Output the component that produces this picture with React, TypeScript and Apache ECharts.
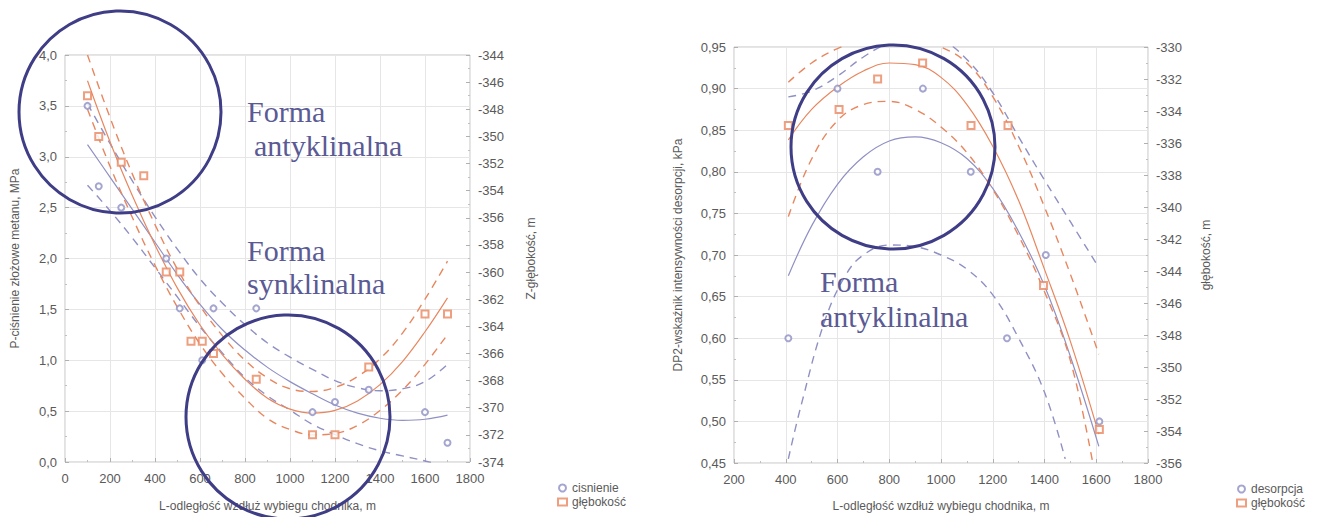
import React, { useEffect, useRef } from "react";
import * as echarts from "echarts";

// ---------- LEFT CHART DATA ----------
const cisX = [100, 150, 250, 450, 510, 610, 660, 850, 1100, 1200, 1350, 1600, 1700];
const cisY = [3.5, 2.71, 2.5, 2.0, 1.51, 1.0, 1.51, 1.51, 0.49, 0.59, 0.71, 0.49, 0.19];
const glebX = [100, 150, 250, 350, 450, 510, 560, 610, 660, 850, 1100, 1200, 1350, 1600, 1700];
const glebZ = [-347.0, -350.0, -351.9, -352.9, -360.0, -360.0, -365.1, -365.1, -366.0, -367.9, -372.0, -372.0, -367.0, -363.1, -363.1];

const fitXL = [100, 200, 300, 400, 500, 600, 700, 800, 900, 1000, 1100, 1200, 1300, 1400, 1500, 1600, 1700];
const cisFit = [3.12, 2.8, 2.48, 2.16, 1.84, 1.55, 1.3, 1.1, 0.93, 0.79, 0.67, 0.56, 0.48, 0.43, 0.41, 0.42, 0.46];
const cisUpper = [3.52, 3.13, 2.76, 2.41, 2.09, 1.8, 1.56, 1.35, 1.17, 1.03, 0.91, 0.8, 0.73, 0.7, 0.72, 0.79, 0.96];
const cisLower = [2.72, 2.47, 2.2, 1.91, 1.62, 1.33, 1.07, 0.83, 0.65, 0.51, 0.37, 0.27, 0.18, 0.11, 0.06, 0.01, -0.05];
const glebFit = [-345.9, -350.4, -354.4, -358.0, -361.2, -363.9, -366.1, -367.9, -369.3, -370.1, -370.4, -370.2, -369.5, -368.3, -366.6, -364.4, -361.9];
const glebUpper = [-344.0, -348.6, -352.8, -356.5, -359.8, -362.5, -364.7, -366.5, -367.8, -368.6, -368.8, -368.5, -367.7, -366.4, -364.5, -362.0, -359.2];
const glebLower = [-348.0, -352.2, -356.0, -359.5, -362.6, -365.3, -367.5, -369.3, -370.8, -371.6, -372.0, -371.9, -371.3, -370.2, -368.7, -366.8, -364.6];

// ---------- RIGHT CHART DATA ----------
const desX = [410, 600, 755, 930, 1115, 1255, 1405, 1612];
const desY = [0.6, 0.9, 0.8, 0.9, 0.8, 0.6, 0.7, 0.5];
const gleb2X = [410, 606, 755, 929, 1116, 1259, 1396, 1612];
const gleb2Z = [-334.9, -333.9, -332.0, -331.0, -334.9, -334.9, -344.9, -353.9];

const fitXR = [410, 500, 600, 700, 800, 900, 1000, 1100, 1200, 1300, 1400, 1500, 1610];
const desFit = [0.675, 0.735, 0.785, 0.818, 0.837, 0.842, 0.835, 0.816, 0.78, 0.728, 0.663, 0.578, 0.47];
const desUpper = [0.89, 0.897, 0.915, 0.938, 0.955, 0.962, 0.958, 0.935, 0.895, 0.842, 0.79, 0.74, 0.685];
const desLowerX = [410, 460, 550, 630, 700, 800, 900, 1000, 1100, 1200, 1300, 1400, 1480];
const desLower = [0.455, 0.52, 0.62, 0.675, 0.7, 0.712, 0.71, 0.7, 0.683, 0.652, 0.6, 0.535, 0.455];
const gleb2Fit = [-335.8, -333.9, -332.5, -331.5, -331.0, -331.1, -331.9, -333.6, -336.2, -339.6, -343.9, -348.4, -354.2];
const gleb2Upper = [-332.2, -331.0, -330.1, -329.6, -329.4, -329.5, -330.0, -331.0, -333.1, -336.2, -340.0, -344.2, -349.2];
const gleb2LowerX = [410, 500, 600, 700, 800, 900, 1000, 1100, 1200, 1300, 1400, 1500, 1590];
const gleb2Lower = [-340.6, -337.0, -334.6, -333.6, -333.4, -333.9, -335.0, -336.6, -338.9, -341.8, -345.3, -349.6, -356.3];

const BLUE = "#8f90c4";
const ORANGE = "#e8875f";
const NAVY = "#3e3d86";
const TXT = "#5a5a94";
const LAB = "#5a5a5a";
const SANS = "'Liberation Sans', Arial, sans-serif";
const SERIF = "'Liberation Serif', 'Times New Roman', serif";

const zip = (xs: number[], ys: number[]) => xs.map((x, i) => [x, ys[i]]);

const comma = (d: number) => (v: number) => v.toFixed(d).replace(".", ",");
const plain = (v: number) => String(Math.round(v));

function lineS(name: string, xi: number, yi: number, xs: number[], ys: number[], color: string, dashed: boolean) {
  return {
    name,
    type: "line",
    xAxisIndex: xi,
    yAxisIndex: yi,
    data: zip(xs, ys),
    smooth: 0.4,
    showSymbol: false,
    symbol: "none",
    silent: true,
    clip: true,
    lineStyle: { color, width: dashed ? 1.4 : 1.2, type: dashed ? [8, 6] : "solid" },
    z: 2,
  };
}

function scatterS(name: string, xi: number, yi: number, xs: number[], ys: number[], color: string, symbol: string) {
  return {
    name,
    type: "scatter",
    xAxisIndex: xi,
    yAxisIndex: yi,
    data: zip(xs, ys),
    symbol,
    symbolSize: symbol === "emptyRect" ? 7 : 6,
    itemStyle: { color, borderColor: color, borderWidth: 1 },
    z: 3,
  };
}

const axisCommon = {
  axisLine: { show: false },
  axisTick: { show: true, inside: true, length: 4, lineStyle: { color: "#b0b0b0" } },
  minorTick: { show: true, splitNumber: 2, length: 2, lineStyle: { color: "#c0c0c0" } },
  axisLabel: { color: LAB, fontFamily: SANS, fontSize: 13 },
  nameTextStyle: { color: LAB, fontFamily: SANS, fontSize: 12 },
};

export default function App() {
  const ref = useRef<HTMLDivElement>(null);
  useEffect(() => {
    if (!ref.current) return;
    const chart = echarts.init(ref.current, null, { renderer: "svg" });
    const option: any = {
      animation: false,
      backgroundColor: "#ffffff",
      grid: [
        { left: 65, top: 55, width: 405, height: 415, show: true, borderColor: "#c4c4c4", borderWidth: 1, backgroundColor: "#fff" },
        { left: 734, top: 47, width: 414, height: 424, show: true, borderColor: "#c4c4c4", borderWidth: 1, backgroundColor: "#fff" },
      ],
      xAxis: [
        {
          ...axisCommon,
          type: "value",
          gridIndex: 0,
          min: 0,
          max: 1800,
          interval: 200,
          splitLine: { show: true, lineStyle: { color: "#e6e6e6" } },
          axisLabel: { ...axisCommon.axisLabel, margin: 10, formatter: plain },
          name: "L-odległość wzdłuż wybiegu chodnika, m",
          nameLocation: "middle",
          nameGap: 38,
        },
        {
          ...axisCommon,
          type: "value",
          gridIndex: 1,
          min: 200,
          max: 1800,
          interval: 200,
          splitLine: { show: true, lineStyle: { color: "#e6e6e6" } },
          axisLabel: { ...axisCommon.axisLabel, margin: 10, formatter: plain },
          name: "L-odległość wzdłuż wybiegu chodnika, m",
          nameLocation: "middle",
          nameGap: 37,
        },
      ],
      yAxis: [
        {
          ...axisCommon,
          type: "value",
          gridIndex: 0,
          position: "left",
          min: 0,
          max: 4,
          interval: 0.5,
          splitLine: { show: true, lineStyle: { color: "#e6e6e6" } },
          axisLabel: { ...axisCommon.axisLabel, formatter: comma(1), margin: 8 },
          name: "P-ciśnienie złożowe metanu, MPa",
          nameLocation: "middle",
          nameGap: 44,
        },
        {
          ...axisCommon,
          type: "value",
          gridIndex: 0,
          position: "right",
          min: -374,
          max: -344,
          interval: 2,
          splitLine: { show: false },
          axisLabel: { ...axisCommon.axisLabel, margin: 8, formatter: plain },
          name: "Z-głębokość, m",
          nameLocation: "middle",
          nameGap: 55,
        },
        {
          ...axisCommon,
          type: "value",
          gridIndex: 1,
          position: "left",
          min: 0.45,
          max: 0.95,
          interval: 0.05,
          splitLine: { show: true, lineStyle: { color: "#e6e6e6" } },
          axisLabel: { ...axisCommon.axisLabel, formatter: comma(2), margin: 8 },
          name: "DP2-wskaźnik intensywności desorpcji, kPa",
          nameLocation: "middle",
          nameGap: 50,
        },
        {
          ...axisCommon,
          type: "value",
          gridIndex: 1,
          position: "right",
          min: -356,
          max: -330,
          interval: 2,
          splitLine: { show: false },
          axisLabel: { ...axisCommon.axisLabel, margin: 8, formatter: plain },
          name: "głębokość, m",
          nameLocation: "middle",
          nameGap: 52,
        },
      ],
      legend: [
        {
          left: 552,
          top: 477,
          orient: "vertical",
          itemGap: 2,
          itemWidth: 9,
          itemHeight: 7,
          data: ["cisnienie", "głębokość"],
          textStyle: { color: LAB, fontFamily: SANS, fontSize: 12 },
        },
        {
          left: 1231,
          top: 478,
          orient: "vertical",
          itemGap: 2,
          itemWidth: 9,
          itemHeight: 7,
          data: ["desorpcja", "głębokość"],
          textStyle: { color: LAB, fontFamily: SANS, fontSize: 12 },
        },
      ],
      series: [
        lineS("fit cis", 0, 0, fitXL, cisFit, BLUE, false),
        lineS("up cis", 0, 0, fitXL, cisUpper, BLUE, true),
        lineS("low cis", 0, 0, fitXL, cisLower, BLUE, true),
        lineS("fit gl", 0, 1, fitXL, glebFit, ORANGE, false),
        lineS("up gl", 0, 1, fitXL, glebUpper, ORANGE, true),
        lineS("low gl", 0, 1, fitXL, glebLower, ORANGE, true),
        scatterS("cisnienie", 0, 0, cisX, cisY, BLUE, "emptyCircle"),
        scatterS("głębokość", 0, 1, glebX, glebZ, ORANGE, "emptyRect"),
        lineS("fit des", 1, 2, fitXR, desFit, BLUE, false),
        lineS("up des", 1, 2, fitXR, desUpper, BLUE, true),
        lineS("low des", 1, 2, desLowerX, desLower, BLUE, true),
        lineS("fit gl2", 1, 3, fitXR, gleb2Fit, ORANGE, false),
        lineS("up gl2", 1, 3, fitXR, gleb2Upper, ORANGE, true),
        lineS("low gl2", 1, 3, gleb2LowerX, gleb2Lower, ORANGE, true),
        scatterS("desorpcja", 1, 2, desX, desY, BLUE, "emptyCircle"),
        scatterS("głębokość", 1, 3, gleb2X, gleb2Z, ORANGE, "emptyRect"),
      ],
      graphic: [
        { type: "text", x: 247, y: 111, z: 10, style: { text: "Forma", font: `30px ${SERIF}`, fill: TXT, verticalAlign: "middle" } },
        { type: "text", x: 254, y: 145, z: 10, style: { text: "antyklinalna", font: `30px ${SERIF}`, fill: TXT, verticalAlign: "middle" } },
        { type: "text", x: 247, y: 250, z: 10, style: { text: "Forma", font: `30px ${SERIF}`, fill: TXT, verticalAlign: "middle" } },
        { type: "text", x: 247, y: 283, z: 10, style: { text: "synklinalna", font: `30px ${SERIF}`, fill: TXT, verticalAlign: "middle" } },
        { type: "text", x: 820, y: 281, z: 10, style: { text: "Forma", font: `30px ${SERIF}`, fill: TXT, verticalAlign: "middle" } },
        { type: "text", x: 820, y: 316, z: 10, style: { text: "antyklinalna", font: `30px ${SERIF}`, fill: TXT, verticalAlign: "middle" } },
        { type: "circle", z: 11, shape: { cx: 120, cy: 112, r: 101 }, style: { fill: "none", stroke: NAVY, lineWidth: 3 } },
        { type: "circle", z: 11, shape: { cx: 288, cy: 417, r: 102 }, style: { fill: "none", stroke: NAVY, lineWidth: 3 } },
        { type: "circle", z: 11, shape: { cx: 893, cy: 147, r: 102 }, style: { fill: "none", stroke: NAVY, lineWidth: 3 } },
      ],
    };
    chart.setOption(option);
    return () => chart.dispose();
  }, []);
  return (
    <div
      ref={ref}
      style={{ position: "fixed", left: 0, top: 0, width: 1325, height: 517, background: "#fff" }}
    />
  );
}
